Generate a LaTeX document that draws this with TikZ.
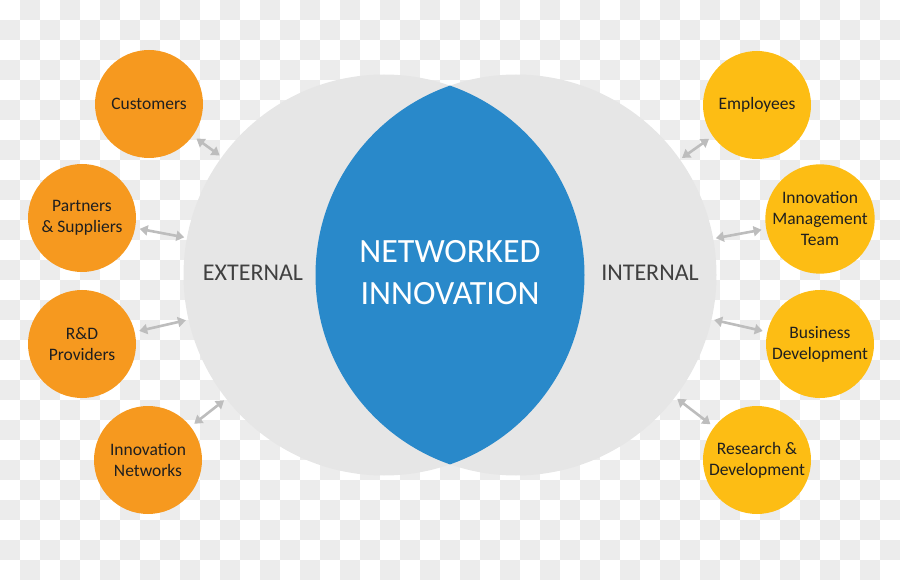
\documentclass[tikz,border=0pt]{standalone}
\usepackage{fontspec}
\setmainfont{Carlito}
\usetikzlibrary{arrows.meta,positioning}
\definecolor{checkgray}{HTML}{ECECEC}
\definecolor{bigray}{HTML}{E6E6E6}
\definecolor{lensblue}{HTML}{2989CA}
\definecolor{extorange}{HTML}{F6991F}
\definecolor{intyellow}{HTML}{FDBD14}
\definecolor{linkgray}{HTML}{BDBDBD}

\begin{document}
\begin{tikzpicture}[x=1pt,y=-1pt,
  partner/.style={circle,minimum size=108pt,inner sep=0pt,align=center,text=black!88,font=\fontsize{17.5}{21}\selectfont},
  extpartner/.style={partner,fill=extorange},
  intpartner/.style={partner,fill=intyellow},
  side/.style={circle,minimum size=401pt,inner sep=0pt,fill=bigray},
  sidelabel/.style={text=black!75,font=\fontsize{24}{29}\selectfont},
  link/.style={draw=linkgray,line width=2.6pt,{Triangle[length=8pt,width=10pt]}-{Triangle[length=8pt,width=10pt]},shorten <=4.5pt,shorten >=2.5pt}]
\useasboundingbox (0,0) rectangle (900,580);
\foreach \j in {0,2,...,28}{\foreach \i in {1,3,...,43}{\fill[checkgray] (20*\i,20*\j) rectangle ++(20,20);}}
\foreach \j in {1,3,...,27}{\foreach \i in {0,2,...,44}{\fill[checkgray] (20*\i,20*\j) rectangle ++(20,20);}}
\node[side] (ext) at (384,275) {};
\node[side] (int) at (516,275) {};
\begin{scope}
\clip (384,275) circle[radius=200.5pt];
\fill[lensblue] (516,275) circle[radius=200.5pt];
\end{scope}
\node[text=white,align=center,font=\fontsize{34}{42}\selectfont] (core) at (450,273) {NETWORKED\\INNOVATION};
\node[sidelabel] (extlabel) at (253,273) {EXTERNAL};
\node[sidelabel] (intlabel) at (650,273) {INTERNAL};
\node[extpartner] (cust) at (149,104) {Customers};
\node[extpartner] (partners) at (82,218) {Partners\\\& Suppliers};
\node[extpartner] (rdprov) at (82,344) {R\&D\\Providers};
\node[extpartner] (innet) at (148,460) {Innovation\\Networks};
\node[intpartner] (empl) at (757,105) {Employees};
\node[intpartner] (imteam) at (820,219) {Innovation\\Management\\Team};
\node[intpartner] (busdev) at (820,344) {Business\\Development};
\node[intpartner] (resdev) at (757,460) {Research \&\\Development};
\draw[link] (cust) -- (ext);
\draw[link] (partners) -- (ext);
\draw[link] (rdprov) -- (ext);
\draw[link] (innet) -- (ext);
\draw[link] (empl) -- (int);
\draw[link] (imteam) -- (int);
\draw[link] (busdev) -- (int);
\draw[link] (resdev) -- (int);
\end{tikzpicture}
\end{document}
